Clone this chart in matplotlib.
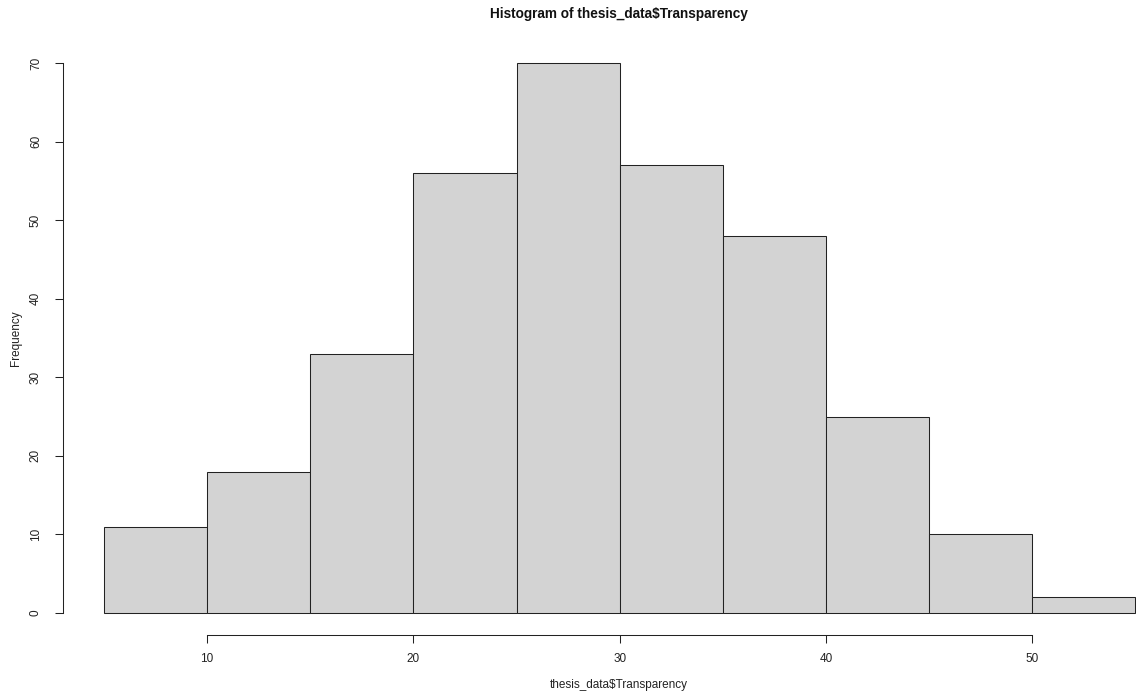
import matplotlib
matplotlib.use("Agg")
import matplotlib.pyplot as plt
import numpy as np

breaks = [5, 10, 15, 20, 25, 30, 35, 40, 45, 50, 55]
counts = [11, 18, 33, 56, 70, 57, 48, 25, 10, 2]
x_ticks = [10, 20, 30, 40, 50]
y_ticks = [0, 10, 20, 30, 40, 50, 60, 70]
title = "Histogram of thesis_data$Transparency"
xlabel = "thesis_data$Transparency"
ylabel = "Frequency"

plt.rcParams['font.family'] = ['Liberation Sans', 'DejaVu Sans']

W, H = 1136, 698
fig = plt.figure(figsize=(W / 100, H / 100), dpi=100)

# plot region in pixels (R-style 4% extension)
px_per_x = 20.625
left_px = 104 - 2 * px_per_x
xr = (3, 57)
width_px = (xr[1] - xr[0]) * px_per_x
yr = (-2.8, 72.8)
top_px = 41.0
bot_px = 635.0
ax = fig.add_axes([left_px / W, (H - bot_px) / H, width_px / W, (bot_px - top_px) / H])
ax.set_xlim(*xr)
ax.set_ylim(*yr)

lefts = breaks[:-1]
widths = np.diff(breaks)
ax.bar(lefts, counts, width=widths, align='edge', color='#D3D3D3',
       edgecolor='#222222', linewidth=0.75, clip_on=False)

for s in ['top', 'right']:
    ax.spines[s].set_visible(False)
ax.spines['left'].set_bounds(y_ticks[0], y_ticks[-1])
ax.spines['bottom'].set_bounds(x_ticks[0], x_ticks[-1])
for s in ['left', 'bottom']:
    ax.spines[s].set_linewidth(0.75)
    ax.spines[s].set_color('#222222')

ax.set_xticks(x_ticks)
ax.set_yticks(y_ticks)
ax.set_yticklabels([str(v) for v in y_ticks], rotation=90, va='center')
ax.tick_params(axis='both', length=6, width=0.75, color='#222222',
               labelsize=8.5, labelcolor='#222222')
ax.tick_params(axis='x', pad=7)
ax.tick_params(axis='y', pad=9)

fig.text((489 + 748) / 2 / W, 1 - 14 / H, title, ha='center', va='center',
         fontsize=9.8, fontweight='bold', color='#111111')
fig.text(619 / W, 1 - 685 / H, xlabel, ha='center', va='center',
         fontsize=8.5, color='#222222')
fig.text(16 / W, 1 - 338 / H, ylabel, ha='center', va='center',
         rotation=90, fontsize=8.5, color='#222222')

fig.savefig("out.png", dpi=100)
